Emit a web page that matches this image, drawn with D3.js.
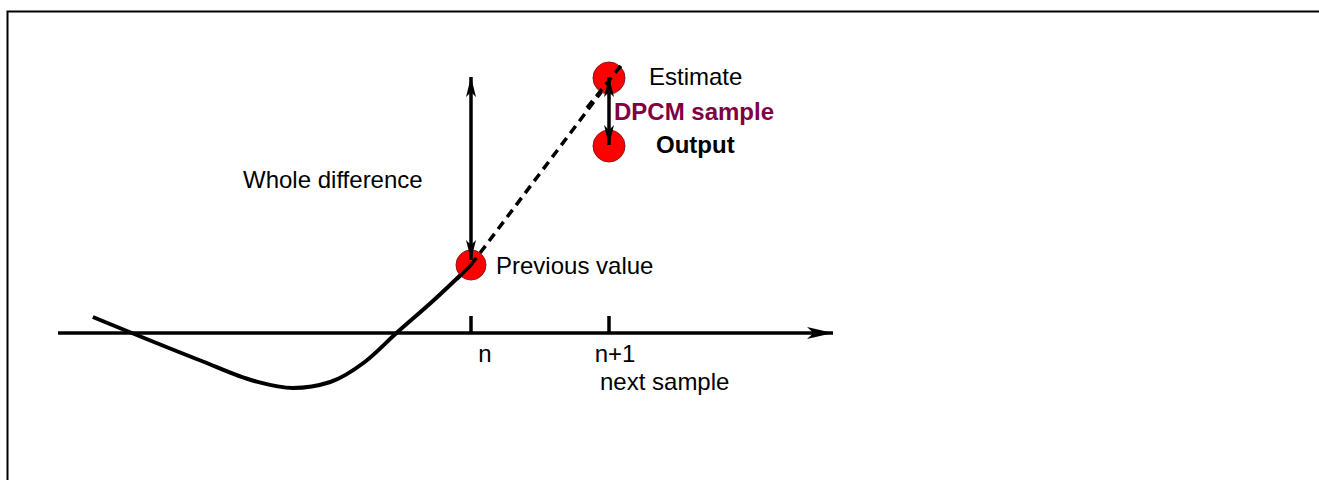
<!DOCTYPE html>
<html lang="en">
  <head>
    <meta charset="utf-8">
    <style>
      body { margin: 0; background: #fff; overflow: hidden; }
      svg { display: block; }
      text { font-family: "Liberation Sans", Arial, sans-serif; }
    </style>
  </head>
  <body>
    <script src="https://cdnjs.cloudflare.com/ajax/libs/d3/7.8.5/d3.min.js"></script>
    <script>
      var width = 1319,
        height = 480;

      // signal in sample units (x) and amplitude units (y)
      var curveX = [-2.74, -1.97, -1.57, -1.29, -1.02, -0.77, -0.54, -0.26, 0];
      var curveY = [0.16, -0.27, -0.48, -0.55, -0.49, -0.29, 0, 0.34, 0.68];
      var tickLabels = ["n", "n+1"];
      var tickSamples = [0, 1];
      var previousValue = 0.68;
      var estimateValue = 2.55;
      var outputValue = 1.87;
      var wholeDiffTop = 2.56;

      var x = d3.scaleLinear().domain([0, 1]).range([471, 609]);
      var y = d3.scaleLinear().domain([0, 1]).range([333, 233]);

      var svg = d3.select("body")
        .append("svg")
        .attr("width", width)
        .attr("height", height);

      // frame
      svg.append("path")
        .attr("d", "M7.5," + height + "V11.5H" + width)
        .attr("fill", "none")
        .attr("stroke", "#000")
        .attr("stroke-width", 2);

      // arrow markers
      var defs = svg.append("defs");
      function marker(id, len, wid) {
        defs.append("marker")
          .attr("id", id)
          .attr("viewBox", "0 " + (-wid / 2) + " " + len + " " + wid)
          .attr("refX", len)
          .attr("refY", 0)
          .attr("markerWidth", len)
          .attr("markerHeight", wid)
          .attr("markerUnits", "userSpaceOnUse")
          .attr("orient", "auto-start-reverse")
          .append("path")
          .attr("d", "M0," + (-wid / 2) + "L" + len + ",0L0," + (wid / 2) + "L" + (len * 0.25) + ",0Z")
          .attr("fill", "#000");
      }
      marker("head", 20, 10);
      marker("axisHead", 26, 12);

      // horizontal axis
      svg.append("line")
        .attr("x1", 58).attr("x2", 833)
        .attr("y1", y(0)).attr("y2", y(0))
        .attr("stroke", "#000")
        .attr("stroke-width", 3.5)
        .attr("marker-end", "url(#axisHead)");

      // ticks
      svg.selectAll(".tick")
        .data(tickSamples)
        .join("line")
        .attr("x1", function (d) { return x(d); })
        .attr("x2", function (d) { return x(d); })
        .attr("y1", y(0) - 17)
        .attr("y2", y(0))
        .attr("stroke", "#000")
        .attr("stroke-width", 3.5);

      svg.selectAll(".tickLabel")
        .data(tickLabels)
        .join("text")
        .attr("x", function (d, i) { return x(tickSamples[i]) + (i === 0 ? 14 : 6); })
        .attr("y", 362)
        .attr("text-anchor", "middle")
        .attr("font-size", 24)
        .text(function (d) { return d; });

      svg.append("text")
        .attr("x", 600).attr("y", 390)
        .attr("font-size", 24)
        .text("next sample");

      // dashed prediction line
      var dashEnd = 1.11;
      var slope = (estimateValue - previousValue) / 1;
      svg.append("line")
        .attr("x1", x(0)).attr("y1", y(previousValue))
        .attr("x2", x(dashEnd)).attr("y2", y(previousValue + slope * dashEnd * 0.98))
        .attr("stroke", "#000")
        .attr("stroke-width", 3.5)
        .attr("stroke-dasharray", "9,6");

      // signal curve
      var line = d3.line()
        .x(function (d, i) { return x(curveX[i]); })
        .y(function (d, i) { return y(curveY[i]); })
        .curve(d3.curveMonotoneX);
      svg.append("path")
        .attr("d", line(curveX))
        .attr("fill", "none")
        .attr("stroke", "#000")
        .attr("stroke-width", 4);

      // points
      var points = [
        { s: 0, v: previousValue, r: 15 },
        { s: 1, v: estimateValue, r: 16 },
        { s: 1, v: outputValue, r: 16 }
      ];
      svg.selectAll(".pt")
        .data(points)
        .join("circle")
        .attr("cx", function (d) { return x(d.s); })
        .attr("cy", function (d) { return y(d.v); })
        .attr("r", function (d) { return d.r; })
        .attr("fill", "#ff0000")
        .attr("stroke", "#8a1a1a")
        .attr("stroke-width", 1);

      // redraw line pieces that lie over the circles
      svg.append("line")
        .attr("x1", x(-0.1)).attr("y1", y(0.54))
        .attr("x2", x(0)).attr("y2", y(previousValue))
        .attr("stroke", "#000")
        .attr("stroke-width", 3.5);
      svg.append("line")
        .attr("x1", x(0)).attr("y1", y(previousValue))
        .attr("x2", x(0.06)).attr("y2", y(previousValue + slope * 0.06))
        .attr("stroke", "#000")
        .attr("stroke-width", 3.5)
        .attr("stroke-dasharray", "9,6");
      svg.append("line")
        .attr("x1", x(0.84)).attr("y1", y(previousValue + slope * 0.84))
        .attr("x2", x(dashEnd)).attr("y2", y(previousValue + slope * dashEnd * 0.98))
        .attr("stroke", "#000")
        .attr("stroke-width", 3.5)
        .attr("stroke-dasharray", "9,6");

      // whole difference double arrow
      svg.append("line")
        .attr("x1", x(0)).attr("x2", x(0))
        .attr("y1", y(wholeDiffTop)).attr("y2", y(previousValue) - 5)
        .attr("stroke", "#000")
        .attr("stroke-width", 3.5)
        .attr("marker-start", "url(#head)")
        .attr("marker-end", "url(#head)");

      // DPCM sample double arrow
      svg.append("line")
        .attr("x1", x(1)).attr("x2", x(1))
        .attr("y1", y(estimateValue) - 1).attr("y2", y(outputValue) - 1)
        .attr("stroke", "#000")
        .attr("stroke-width", 3.5)
        .attr("marker-start", "url(#head)")
        .attr("marker-end", "url(#head)");

      // labels
      svg.append("text")
        .attr("x", 243).attr("y", 188)
        .attr("font-size", 24)
        .text("Whole difference");
      svg.append("text")
        .attr("x", 496).attr("y", 274)
        .attr("font-size", 24)
        .text("Previous value");
      svg.append("text")
        .attr("x", 649).attr("y", 85)
        .attr("font-size", 24)
        .text("Estimate");
      svg.append("text")
        .attr("x", 614).attr("y", 120)
        .attr("font-size", 24)
        .attr("font-weight", "bold")
        .attr("fill", "#800040")
        .text("DPCM sample");
      svg.append("text")
        .attr("x", 656).attr("y", 153)
        .attr("font-size", 24)
        .attr("font-weight", "bold")
        .text("Output");
    </script>
  </body>
</html>
